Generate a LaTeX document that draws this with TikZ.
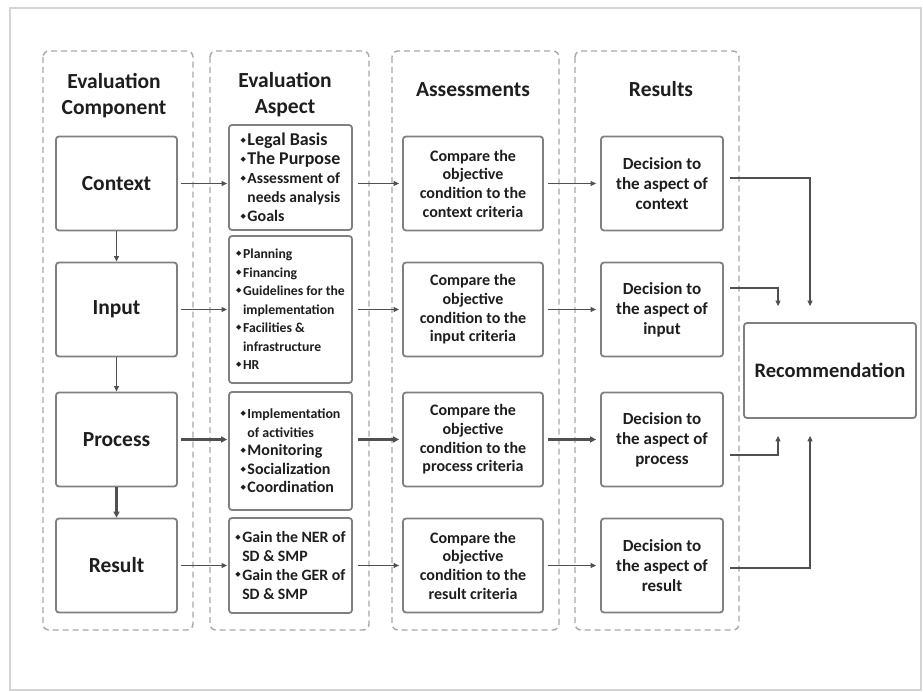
\documentclass[tikz,border=0pt]{standalone}
\usepackage{fontspec}
\setmainfont{Carlito}
\newfontfamily\dejavu{DejaVu Sans}
\usetikzlibrary{arrows.meta}
\definecolor{framegray}{HTML}{D4D4D4}
\definecolor{colgray}{HTML}{A8A8A8}
\definecolor{boxgray}{HTML}{808080}
\definecolor{arrgray}{HTML}{505050}
\definecolor{txt}{HTML}{1E1E1E}
\newcommand{\bul}{\raisebox{0.22em}{\dejavu\fontsize{7}{7}\selectfont ◆}\hspace{1.5pt}}
\newcommand{\ind}{\hphantom{\bul}}
\begin{document}
\begin{tikzpicture}[x=1pt,y=-1pt,
  frame/.style={draw=framegray,line width=1.6pt},
  col/.style={draw=colgray,line width=1.4pt,dash pattern=on 6pt off 4pt,rounded corners=6pt},
  box/.style={draw=boxgray,line width=1.8pt,rounded corners=3pt,text=txt,align=center,inner sep=0pt},
  comp/.style={box,minimum width=121pt,minimum height=94pt,font=\bfseries\fontsize{21.5}{25}\selectfont},
  asp/.style={box,minimum width=123pt,align=left},
  asm/.style={box,minimum width=140pt,minimum height=94pt,font=\bfseries\fontsize{16}{18.7}\selectfont},
  res/.style={box,minimum width=122pt,minimum height=94pt,font=\bfseries\fontsize{17}{20}\selectfont},
  head/.style={text=txt,align=center,font=\bfseries\fontsize{21.5}{26}\selectfont},
  arr/.style={draw=arrgray,line width=1.2pt,-{Triangle[length=5.5pt,width=5pt]}},
  thick arr/.style={arr,line width=2.2pt,-{Triangle[length=6pt,width=6pt]}}
]
\useasboundingbox (0,0) rectangle (923,692);
\fill[white] (0,0) rectangle (923,692);
\draw[frame] (10,8) rectangle (921,690);

% dashed columns
\draw[col] (43,51) rectangle (193,630);
\draw[col] (210,51) rectangle (369,630);
\draw[col] (392,51) rectangle (559,630);
\draw[col] (575,51) rectangle (739,630);

% headers
\node[head] (h1) at (114,96) {Evaluation\\Component};
\node[head] (h2) at (285,95) {Evaluation\\Aspect};
\node[head] (h3) at (473,90) {Assessments};
\node[head] (h4) at (661,89) {Results};

% evaluation components
\node[comp] (c1) at (116.5,183.5) {Context};
\node[comp] (c2) at (116.5,309.5) {Input};
\node[comp] (c3) at (116.5,439.5) {Process};
\node[comp] (c4) at (116.5,565.5) {Result};

% aspects
\node[asp,minimum height=105pt,font=\bfseries\fontsize{15.5}{19}\selectfont] (a1) at (290.5,177.5)
  {\bul{\fontsize{18}{19}\selectfont Legal Basis}\\
   \bul{\fontsize{18}{19}\selectfont The Purpose}\\
   \bul Assessment of\\
   \ind needs analysis\\
   \bul{\fontsize{16}{19}\selectfont Goals}};
\node[asp,minimum height=147pt,font=\bfseries\fontsize{13.7}{18.5}\selectfont] (a2) at (290.5,309.5)
  {\bul Planning\\
   \bul Financing\\
   \bul Guidelines for the\\
   \ind implementation\\
   \bul Facilities \&\\
   \ind infrastructure\\
   \bul HR};
\node[asp,minimum height=118pt,font=\bfseries\fontsize{13.9}{18.5}\selectfont] (a3) at (290.5,451)
  {\bul Implementation\\
   \ind of activities\\
   \bul{\fontsize{16}{18.5}\selectfont Monitoring}\\
   \bul{\fontsize{16}{18.5}\selectfont Socialization}\\
   \bul{\fontsize{16}{18.5}\selectfont Coordination}};
\node[asp,minimum height=95pt,font=\bfseries\fontsize{15.8}{18.7}\selectfont] (a4) at (290.5,565.5)
  {\bul Gain the NER of\\
   \ind SD \& SMP\\
   \bul Gain the GER of\\
   \ind SD \& SMP};

% assessments
\node[asm] (s1) at (473,183.5) {Compare the\\objective\\condition to the\\context criteria};
\node[asm] (s2) at (473,309.5) {Compare the\\objective\\condition to the\\input criteria};
\node[asm] (s3) at (473,439.5) {Compare the\\objective\\condition to the\\process criteria};
\node[asm] (s4) at (473,565.5) {Compare the\\objective\\condition to the\\result criteria};

% results
\node[res] (r1) at (662,183.5) {Decision to\\the aspect of\\context};
\node[res] (r2) at (662,309.5) {Decision to\\the aspect of\\input};
\node[res] (r3) at (662,439.5) {Decision to\\the aspect of\\process};
\node[res] (r4) at (662,565.5) {Decision to\\the aspect of\\result};

% recommendation
\node[box,minimum width=172pt,minimum height=95pt,font=\bfseries\fontsize{20.5}{24}\selectfont] (rec) at (830,370.5) {Recommendation};

% vertical arrows
\draw[arr] (c1.south) -- (c2.north);
\draw[arr] (c2.south) -- (c3.north);
\draw[thick arr] (c3.south) -- (c4.north);

% row arrows
\foreach \i in {1,2,4}{
  \draw[arr,shorten <=3pt,shorten >=1pt] (c\i.east) -- (c\i.east -| a\i.west);
  \draw[arr,shorten <=5pt,shorten >=3pt] (c\i.east -| a\i.east) -- (c\i.east -| s\i.west);
  \draw[arr,shorten <=4pt,shorten >=4pt] (s\i.east) -- (r\i.west);
}
\draw[thick arr,shorten <=3pt,shorten >=1pt] (c3.east) -- (c3.east -| a3.west);
\draw[thick arr,shorten <=5pt,shorten >=3pt] (c3.east -| a3.east) -- (c3.east -| s3.west);
\draw[thick arr,shorten <=4pt,shorten >=4pt] (s3.east) -- (r3.west);

% to recommendation
\draw[arr,shorten <=6pt,shorten >=16pt] ([yshift=5.5pt]r1.east) -| ([xshift=-20pt]rec.north);
\draw[arr,shorten <=6pt,shorten >=16pt] ([yshift=21.5pt]r2.east) -| ([xshift=-52pt]rec.north);
\draw[arr,shorten <=6pt,shorten >=17pt] ([yshift=-15.5pt]r3.east) -| ([xshift=-52pt]rec.south);
\draw[arr,shorten <=6pt,shorten >=17pt] ([yshift=-2.5pt]r4.east) -| ([xshift=-20pt]rec.south);
\end{tikzpicture}
\end{document}
